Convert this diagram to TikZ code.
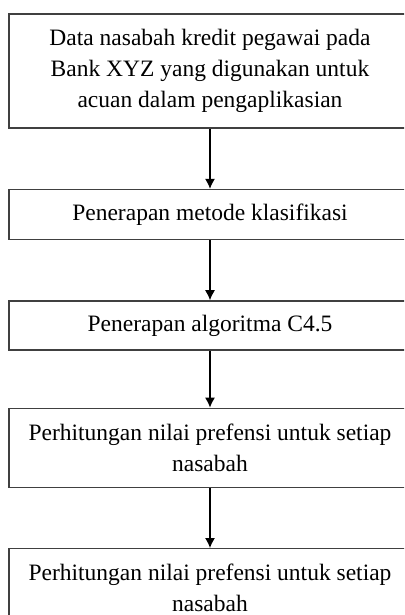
\documentclass[tikz,border=0pt]{standalone}
\usepackage{fontspec}
\setmainfont{Liberation Serif}
\usetikzlibrary{matrix,arrows.meta}

\tikzset{
  kotak/.style={draw=black!75, line width=0.7pt, minimum width=201pt, inner sep=0pt,
    align=center, font=\fontsize{11.75}{15.5}\selectfont},
}

\begin{document}
\begin{tikzpicture}[x=0.5pt,y=-0.5pt]
      \path[use as bounding box, clip] (0,0) rectangle (404,615);
      \matrix (m) [row sep=30pt, inner sep=0pt, anchor=north] at (210,13)
              {
                \node[kotak, minimum height=57pt] (data) {Data nasabah kredit pegawai pada\\Bank XYZ yang digunakan untuk\\acuan dalam pengaplikasian}; \\
                \node[kotak, minimum height=25pt] (klasifikasi) {Penerapan metode klasifikasi}; \\
                \node[kotak, minimum height=24.5pt] (c45) {Penerapan algoritma C4.5}; \\[-1.5pt]
                \node[kotak, minimum height=39.5pt] (prefensi1) {Perhitungan nilai prefensi untuk setiap\\nasabah}; \\
                \node[kotak, minimum height=39.5pt] (prefensi2) {Perhitungan nilai prefensi untuk setiap\\nasabah}; \\
              };
              \path[-{Latex[length=5pt,width=5pt]}, line width=0.6pt]
              (data) edge (klasifikasi)
              (klasifikasi) edge (c45)
              (c45) edge (prefensi1)
              (prefensi1) edge (prefensi2);
    \end{tikzpicture}
\end{document}
